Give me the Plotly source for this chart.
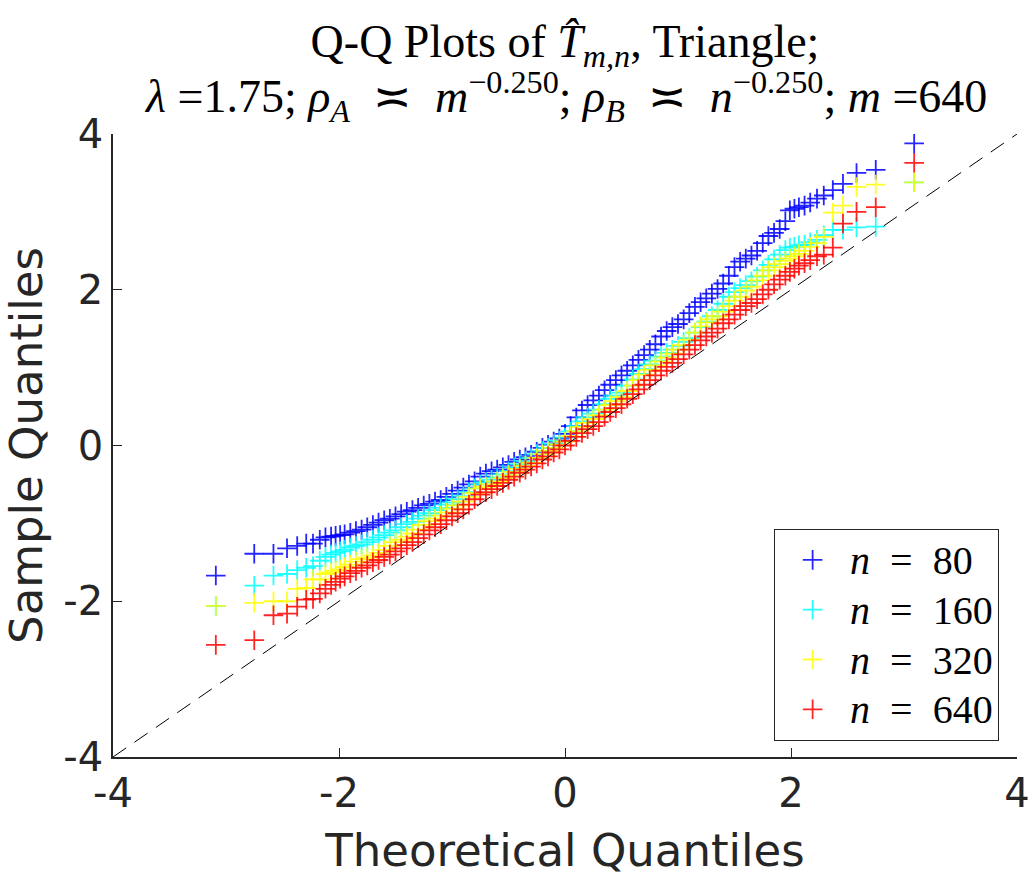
import plotly.graph_objects as go

# theoretical quantiles (x) shared by all four series
x_q = [-3.09, -2.75, -2.58, -2.46, -2.37, -2.29, -2.23, -2.17, -2.12, -2.07, -2.03, -1.99,
       -1.95, -1.90, -1.85, -1.80, -1.75, -1.70, -1.65, -1.60, -1.55, -1.50,
       -1.45, -1.40, -1.35, -1.30, -1.25, -1.20, -1.15, -1.10, -1.05, -1.00,
       -0.95, -0.90, -0.85, -0.80, -0.75, -0.70, -0.65, -0.60, -0.55, -0.50,
       -0.45, -0.40, -0.35, -0.30, -0.25, -0.20, -0.15, -0.10, -0.05, 0.00,
       0.05, 0.10, 0.15, 0.20, 0.25, 0.30, 0.35, 0.40, 0.45, 0.50,
       0.55, 0.60, 0.65, 0.70, 0.75, 0.80, 0.85, 0.90, 0.95, 1.00,
       1.05, 1.10, 1.15, 1.20, 1.25, 1.30, 1.35, 1.40, 1.45, 1.50,
       1.55, 1.60, 1.65, 1.70, 1.75, 1.80, 1.85, 1.90, 1.95,
       1.99, 2.03, 2.07, 2.12, 2.17, 2.23, 2.29, 2.37, 2.46, 2.58, 2.75, 3.09]

# sample quantiles
y_n80 = [-1.67, -1.39, -1.39, -1.32, -1.29, -1.26, -1.26, -1.21, -1.18, -1.17, -1.16, -1.15,
         -1.14, -1.12, -1.10, -1.08, -1.05, -1.02, -0.99, -0.96, -0.94, -0.91,
         -0.88, -0.85, -0.83, -0.80, -0.77, -0.75, -0.72, -0.70, -0.66, -0.62,
         -0.58, -0.54, -0.50, -0.46, -0.40, -0.36, -0.33, -0.31, -0.28, -0.25,
         -0.21, -0.18, -0.15, -0.12, -0.08, -0.03, 0.01, 0.05, 0.09, 0.15,
         0.25, 0.36, 0.45, 0.52, 0.58, 0.64, 0.71, 0.78, 0.84, 0.90,
         0.96, 1.03, 1.10, 1.16, 1.23, 1.30, 1.40, 1.47, 1.52, 1.56,
         1.62, 1.70, 1.78, 1.84, 1.89, 1.95, 2.01, 2.08, 2.18, 2.29,
         2.36, 2.40, 2.44, 2.50, 2.60, 2.69, 2.73, 2.78, 2.88,
         3.02, 3.04, 3.06, 3.08, 3.12, 3.17, 3.21, 3.28, 3.36, 3.50, 3.54, 3.88]

y_n160 = [-2.06, -1.80, -1.67, -1.65, -1.60, -1.57, -1.55, -1.48, -1.43, -1.40, -1.38, -1.36,
          -1.34, -1.31, -1.29, -1.27, -1.24, -1.21, -1.18, -1.15, -1.12, -1.09,
          -1.05, -1.01, -0.98, -0.94, -0.90, -0.87, -0.83, -0.80, -0.76, -0.73,
          -0.69, -0.65, -0.60, -0.55, -0.50, -0.47, -0.44, -0.41, -0.37, -0.33,
          -0.28, -0.24, -0.20, -0.16, -0.11, -0.07, -0.03, 0.02, 0.06, 0.10,
          0.18, 0.25, 0.31, 0.36, 0.41, 0.46, 0.53, 0.60, 0.64, 0.68,
          0.77, 0.85, 0.92, 0.98, 1.04, 1.09, 1.14, 1.19, 1.23, 1.28,
          1.33, 1.38, 1.45, 1.52, 1.59, 1.66, 1.74, 1.82, 1.91, 1.97,
          2.02, 2.06, 2.11, 2.17, 2.25, 2.32, 2.39, 2.45, 2.51,
          2.54, 2.55, 2.57, 2.58, 2.61, 2.64, 2.70, 2.77, 2.77, 2.80, 2.81, 3.38]

y_n320 = [-2.06, -2.02, -2.00, -2.00, -1.84, -1.83, -1.72, -1.72, -1.65, -1.63, -1.61, -1.59,
          -1.56, -1.53, -1.49, -1.46, -1.44, -1.41, -1.38, -1.34, -1.29, -1.24,
          -1.21, -1.17, -1.13, -1.08, -1.02, -0.97, -0.94, -0.90, -0.86, -0.81,
          -0.77, -0.72, -0.66, -0.61, -0.55, -0.53, -0.50, -0.46, -0.42, -0.38,
          -0.34, -0.30, -0.26, -0.22, -0.16, -0.11, -0.07, -0.03, 0.01, 0.05,
          0.12, 0.18, 0.24, 0.29, 0.34, 0.39, 0.46, 0.52, 0.57, 0.62,
          0.70, 0.77, 0.84, 0.91, 0.97, 1.03, 1.08, 1.13, 1.18, 1.23,
          1.29, 1.36, 1.45, 1.53, 1.58, 1.62, 1.66, 1.72, 1.79, 1.86,
          1.91, 1.99, 2.04, 2.12, 2.18, 2.25, 2.29, 2.33, 2.37,
          2.40, 2.43, 2.46, 2.50, 2.55, 2.60, 2.68, 2.99, 3.08, 3.32, 3.35, 3.38]

y_n640 = [-2.56, -2.50, -2.18, -2.16, -2.07, -1.98, -1.97, -1.90, -1.84, -1.79, -1.75, -1.71,
          -1.68, -1.64, -1.61, -1.57, -1.54, -1.50, -1.47, -1.43, -1.40, -1.36,
          -1.32, -1.28, -1.24, -1.19, -1.14, -1.09, -1.05, -1.01, -0.96, -0.91,
          -0.87, -0.82, -0.76, -0.69, -0.63, -0.60, -0.56, -0.52, -0.48, -0.44,
          -0.40, -0.35, -0.31, -0.27, -0.23, -0.18, -0.14, -0.09, -0.05, 0.00,
          0.06, 0.11, 0.16, 0.21, 0.25, 0.30, 0.37, 0.43, 0.48, 0.53,
          0.60, 0.66, 0.72, 0.78, 0.84, 0.90, 0.96, 1.01, 1.06, 1.11,
          1.17, 1.23, 1.29, 1.35, 1.40, 1.45, 1.50, 1.57, 1.62, 1.68,
          1.74, 1.79, 1.83, 1.88, 1.94, 2.00, 2.07, 2.13, 2.18,
          2.23, 2.27, 2.31, 2.34, 2.38, 2.43, 2.45, 2.54, 2.85, 3.00, 3.06, 3.63]

n_labels = ["80", "160", "320", "640"]
series_colors = ["#0000ff", "#00ffff", "#ffff00", "#ff0000"]
ref_line = [-4, 4]

tick_vals = [-4, -2, 0, 2, 4]
tick_text = ["-4", "-2", "0", "2", "4"]

ink = "#262626"
serif = "Liberation Serif"

fig = go.Figure()

for lab, col, ys in zip(n_labels, series_colors, [y_n80, y_n160, y_n320, y_n640]):
    name = '<span style="font-size:40px"><i>n</i>\u2002=\u2002' + lab + "</span>"
    fig.add_trace(go.Scatter(
        x=x_q, y=ys, mode="markers", name=name,
        marker=dict(symbol="cross-thin", size=14, color=col, opacity=0.85,
                    line=dict(color=col, width=1.8)),
    ))

# y = x reference line
fig.add_trace(go.Scatter(
    x=ref_line, y=ref_line, mode="lines", showlegend=False, hoverinfo="skip",
    line=dict(color="black", width=1, dash="16px,10px"),
))

axis_common = dict(
    range=[-4, 4], tickvals=tick_vals, ticktext=tick_text,
    showline=True, linecolor=ink, linewidth=1.5, mirror=False,
    ticks="inside", ticklen=9, tickwidth=1.2, tickcolor=ink,
    showgrid=False, zeroline=False, ticklabeloverflow="allow", automargin=False,
    tickfont=dict(family="DejaVu Sans", size=40, color=ink),
)

fig.update_xaxes(**axis_common,
                 title=dict(text="Theoretical Quantiles", standoff=22,
                            font=dict(family="DejaVu Sans", size=45, color=ink)))
fig.update_yaxes(**axis_common,
                 title=dict(text="Sample Quantiles", standoff=11,
                            font=dict(family="DejaVu Sans", size=45, color=ink)))

fig.update_layout(
    width=1032, height=877,
    margin=dict(l=113, r=15, t=134, b=120, autoexpand=False),
    paper_bgcolor="white", plot_bgcolor="white",
    title=dict(
        text="Q-Q Plots of <i>T̂</i><sub><i>m,n</i></sub>, Triangle;",
        x=0.5, xref="paper", xanchor="center",
        y=1 - 41 / 877, yref="container", yanchor="middle",
        font=dict(family=serif, size=46, color="black"),
    ),
    legend=dict(
        x=0.98, y=0.026, xanchor="right", yanchor="bottom",
        bgcolor="white", bordercolor=ink, borderwidth=1.2,
        font=dict(family=serif, size=36, color="black"),
        itemwidth=65,
    ),
    showlegend=True,
)

# second title line
fig.add_annotation(
    text=("<i>λ</i> =1.75; <i>ρ</i><sub><i>A</i></sub>\u2002≍\u2002<i>m</i><sup>−0.250</sup>; "
          "<i>ρ</i><sub><i>B</i></sub>\u2002≍\u2002<i>n</i><sup>−0.250</sup>; <i>m</i> =640"),
    xref="paper", yref="paper", x=0.5, y=1 + (134 - 96) / 623,
    xanchor="center", yanchor="middle", showarrow=False,
    font=dict(family=serif, size=46, color="black"),
)

# no page margin / scrollbars, so the figure fills the window exactly
fig.write_html("out.html", config={"displayModeBar": False},
               post_script="document.body.style.margin = '0'; document.body.style.overflow = 'hidden';")
